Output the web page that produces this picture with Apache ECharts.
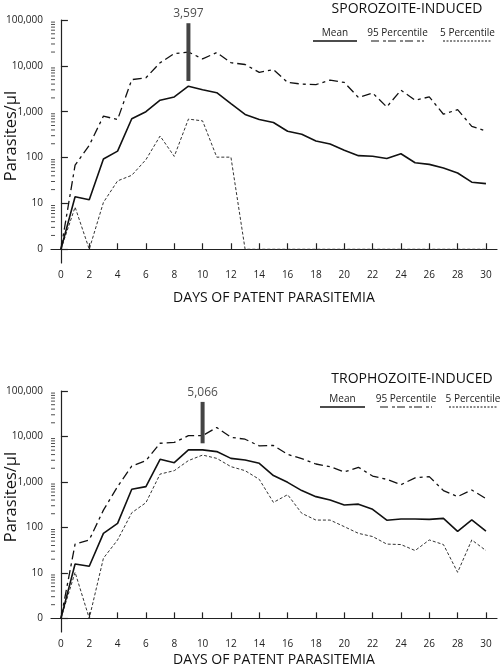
<!DOCTYPE html>
<html>
<head>
<meta charset="utf-8">
<script src="https://cdn.jsdelivr.net/npm/echarts@6/dist/echarts.min.js"></script>
<style>html,body{margin:0;padding:0;background:#fff}#c{width:500px;height:668px}</style>
</head>
<body>
<div id="c"></div>
<script>
// ---- Data ----
const days = [0,1,2,3,4,5,6,7,8,9,10,11,12,13,14,15,16,17,18,19,20,21,22,23,24,25,26,27,28,29,30];
const xTickLabels = [0,2,4,6,8,10,12,14,16,18,20,22,24,26,28,30];
const yTickLabels = ['0','10','100','1,000','10,000','100,000'];

// Sporozoite-induced (parasites/µl; 0 = none)
const sporoMean = [0,14,12,93,138,700,1000,1780,2100,3597,3000,2600,1500,870,675,580,375,322,230,198,144,110,107,95,121,77,71,59,46,29,27];
const sporoP95  = [0,68,185,800,675,5000,5500,11700,18500,20000,14200,19500,11700,10700,7200,8300,4350,4000,3900,4900,4350,2040,2560,1270,2950,1780,2100,880,1110,480,380];
const sporoP5   = [0,8.3,0,10.5,31,41,90,295,106,690,630,102,102,0,0,0,0,0,0,0,0,0,0,0,0,0,0,0,0,0,0];
const sporoPeakDay = 9, sporoPeakLabel = '3,597';

// Trophozoite-induced
const trophMean = [0,15.7,14,74,123,690,790,3150,2650,5066,5066,4650,3300,3030,2570,1380,980,645,475,400,310,325,250,144,153,153,150,158,82,146,83];
const trophP95  = [0,43,53,240,790,2240,2950,7100,7400,10400,10400,15800,9600,8700,6200,6350,4050,3250,2480,2170,1660,2100,1350,1140,870,1230,1310,645,475,665,430];
const trophP5   = [0,10.3,0,21,53,210,350,1490,1770,2950,3900,3300,2170,1770,1140,355,525,204,145,145,104,74,63,43,42,31,53,42,10.3,53,31];
const trophPeakDay = 10, trophPeakLabel = '5,066';

// ---- Helpers ----
const lg = v => (v <= 1 ? 0 : Math.log10(v));
const toPts = arr => days.map((d, i) => [d, lg(arr[i])]);
const minorTicks = [];
for (let dec = 0; dec < 5; dec++) for (let k = 2; k <= 9; k++) minorTicks.push(dec + Math.log10(k));

const FONT = 'Open Sans';
const X_MIN = -0.7, X_MAX = 30.78, Y_MIN = -0.3, Y_MAX = 5;
const grids = [
  {left: 51, right: 3, top: 20, height: 243},
  {left: 51, right: 3, top: 391, height: 241}
];

const xAxes = [], yAxes = [], series = [];
grids.forEach((g, gi) => {
  xAxes.push({
    type: 'value', gridIndex: gi, min: X_MIN, max: X_MAX,
    splitLine: {show: false},
    axisLine: {lineStyle: {color: '#222', width: 1.2}},
    axisTick: {inside: true, length: 6, customValues: xTickLabels, lineStyle: {color: '#222', width: 1.2}},
    axisLabel: {customValues: xTickLabels, color: '#222', fontFamily: FONT, fontSize: 10, margin: 7}
  });
  yAxes.push({
    type: 'value', gridIndex: gi, min: Y_MIN, max: Y_MAX,
    splitLine: {show: false},
    axisLine: {show: true, lineStyle: {color: '#222', width: 1.2}},
    axisTick: {inside: true, length: 7, customValues: [0,1,2,3,4,5], lineStyle: {color: '#222', width: 1.2}},
    axisLabel: {customValues: [0,1,2,3,4,5], formatter: v => yTickLabels[Math.round(v)], color: '#222', fontFamily: FONT, fontSize: 10, margin: 8}
  });
});

function addPanel(gi, mean, p95, p5, peakDay, peakLabel, barTop, barBottom) {
  const base = {type: 'line', xAxisIndex: gi, yAxisIndex: gi, showSymbol: false, symbol: 'none', silent: true, animation: false};
  // log minor ticks on the y axis (drawn through the axis scale)
  series.push({
    type: 'scatter', xAxisIndex: gi, yAxisIndex: gi, silent: true, animation: false, clip: false,
    symbol: 'rect', symbolSize: [4, 1], symbolOffset: [2, 0], itemStyle: {color: '#222'},
    data: minorTicks.map(v => [X_MIN, v])
  });
  series.push(Object.assign({}, base, {data: toPts(p5), lineStyle: {color: '#333', width: 1, type: [3, 2]}}));
  series.push(Object.assign({}, base, {data: toPts(p95), lineStyle: {color: '#111', width: 1.3, type: [9, 4, 3, 4]}}));
  series.push(Object.assign({}, base, {data: toPts(mean), lineStyle: {color: '#111', width: 1.6}}));
  series.push(Object.assign({}, base, {
    data: [[peakDay, barTop], [peakDay, barBottom]],
    lineStyle: {color: '#444', width: 4}
  }));
  series.push({
    type: 'scatter', xAxisIndex: gi, yAxisIndex: gi, silent: true, animation: false,
    symbolSize: 1, itemStyle: {color: 'rgba(0,0,0,0)'},
    data: [[peakDay, barTop]],
    label: {show: true, position: 'top', distance: 3, formatter: peakLabel, color: '#222', fontFamily: FONT, fontSize: 12}
  });
}
addPanel(0, sporoMean, sporoP95, sporoP5, sporoPeakDay, sporoPeakLabel, 4.93, 3.67);
addPanel(1, trophMean, trophP95, trophP5, trophPeakDay, trophPeakLabel, 4.76, 3.85);

function legendGraphics(titleText, titleX, titleY, textY, lineY, items) {
  const els = [{type: 'text', x: titleX, y: titleY, style: {text: titleText, font: '14px "' + FONT + '"', fill: '#111', textAlign: 'center', textVerticalAlign: 'middle'}}];
  items.forEach(it => {
    els.push({type: 'text', x: (it.x1 + it.x2) / 2, y: textY, style: {text: it.label, font: '10px "' + FONT + '"', fill: '#222', textAlign: 'center', textVerticalAlign: 'middle'}});
    els.push({type: 'line', shape: {x1: it.x1, y1: lineY, x2: it.x2, y2: lineY}, style: {stroke: '#111', lineWidth: it.w, lineDash: it.dash}});
  });
  return els;
}
const graphics = [].concat(
  legendGraphics('SPOROZOITE-INDUCED', 407, 9, 33, 41, [
    {label: 'Mean', x1: 313, x2: 357, w: 1.5, dash: null},
    {label: '95 Percentile', x1: 371, x2: 424, w: 1.2, dash: [8, 4, 3, 2, 8, 4, 3, 2]},
    {label: '5 Percentile', x1: 443, x2: 492, w: 1, dash: [2, 1.5]}
  ]),
  legendGraphics('TROPHOZOITE-INDUCED', 412, 379, 399, 407, [
    {label: 'Mean', x1: 320, x2: 365, w: 1.5, dash: null},
    {label: '95 Percentile', x1: 380, x2: 432, w: 1.2, dash: [8, 4, 3, 2, 8, 4, 3, 2]},
    {label: '5 Percentile', x1: 449, x2: 497, w: 1, dash: [2, 1.5]}
  ]),
  [
    {type: 'text', x: 274, y: 298, style: {text: 'DAYS OF PATENT PARASITEMIA', font: '14px "' + FONT + '"', fill: '#111', textAlign: 'center', textVerticalAlign: 'middle'}},
    {type: 'text', x: 274, y: 660, style: {text: 'DAYS OF PATENT PARASITEMIA', font: '14px "' + FONT + '"', fill: '#111', textAlign: 'center', textVerticalAlign: 'middle'}},
    {type: 'text', x: 11, y: 136, rotation: Math.PI / 2, style: {text: 'Parasites/µl', font: '16.5px "' + FONT + '"', fill: '#111', textAlign: 'center', textVerticalAlign: 'middle'}},
    {type: 'text', x: 11, y: 497, rotation: Math.PI / 2, style: {text: 'Parasites/µl', font: '16.5px "' + FONT + '"', fill: '#111', textAlign: 'center', textVerticalAlign: 'middle'}}
  ]
);

const chart = echarts.init(document.getElementById('c'), null, {renderer: 'canvas'});
chart.setOption({
  animation: false,
  backgroundColor: '#fff',
  grid: grids,
  xAxis: xAxes,
  yAxis: yAxes,
  series: series,
  graphic: graphics
});
</script>
</body>
</html>
